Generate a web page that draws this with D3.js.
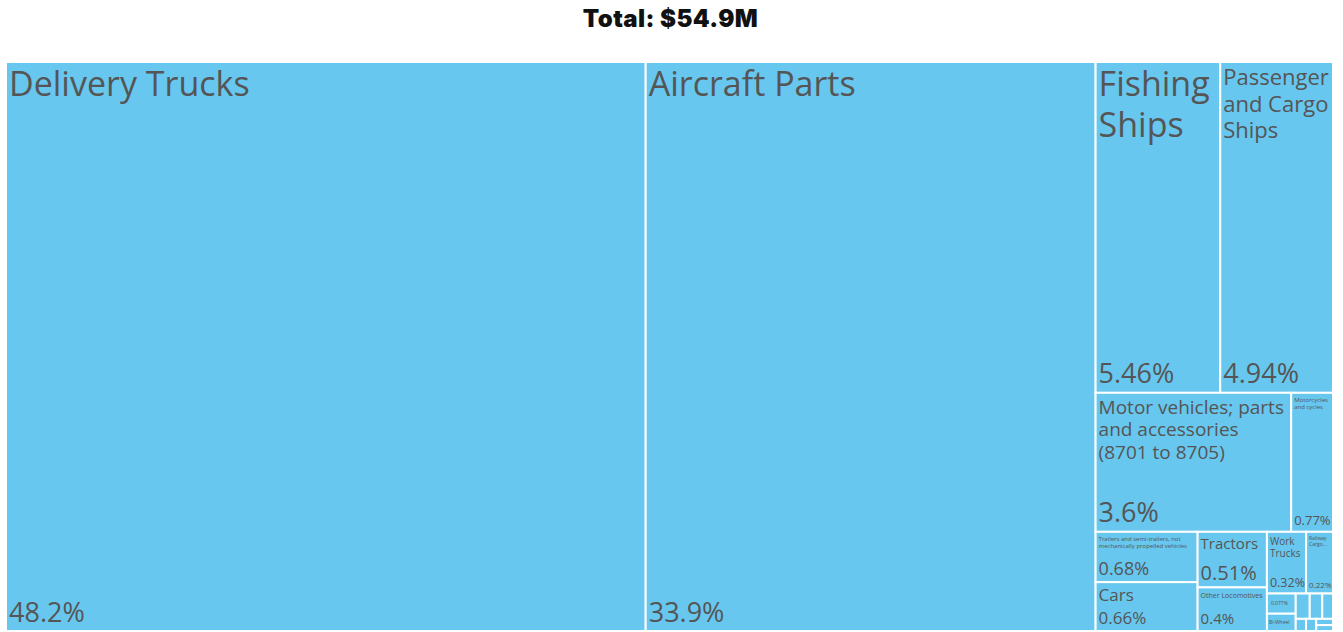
<!DOCTYPE html>
<html><head><meta charset="utf-8">
<script src="https://cdn.jsdelivr.net/npm/d3@7"></script>
<style>
html,body{margin:0;padding:0;background:#fff;}
svg{display:block;}
</style></head><body>
<svg id="chart" width="1343" height="632"></svg>
<script>
// ---- data ----
const titleText = "Total: $54.9M";
const categories = [
  "Delivery Trucks",
  "Aircraft Parts",
  "Fishing Ships",
  "Passenger and Cargo Ships",
  "Motor vehicles; parts and accessories (8701 to 8705)",
  "Motorcycles and cycles",
  "Trailers and semi-trailers, not mechanically propelled vehicles",
  "Cars",
  "Tractors",
  "Other Locomotives",
  "Work Trucks",
  "Railway Cargo Containers",
  "Self-propelled Railway Passenger Cars",
  "Bi-Wheel Vehicles",
  "Railway Maintenance Vehicles",
  "Baby Carriages",
  "Armored Vehicles",
  "Motorcycle Parts",
  "Vehicle Parts and Accessories",
  "Railway Freight Cars",
  "Hovercraft"
];
const shares = [48.2, 33.9, 5.46, 4.94, 3.6, 0.77, 0.68, 0.66, 0.51, 0.4, 0.32, 0.22,
  0.077, 0.066, 0.047, 0.042, 0.036, 0.0166, 0.0164, 0.014, 0.013];

// ---- setup ----
const W = 1343, H = 632;
const area = {x: 6, y: 62, w: 1327, h: 569};
const FILL = "#67c7ee", TEXT = "#555555";
const FONT = "'Open Sans', sans-serif";
const NAME_MAX = 34, SHARE_MAX = 27, FMIN = 5, LH = 1.2, PAD = 3;

const svg = d3.select("#chart");
svg.append("text")
  .attr("x", W / 2 - 1).attr("y", 27)
  .attr("text-anchor", "middle")
  .style("font-family", "Inter, 'Noto Sans', sans-serif")
  .style("font-weight", 900)
  .style("font-size", "24px")
  .style("letter-spacing", "0.4px")
  .attr("fill", "#111")
  .text(titleText);

const total = d3.sum(shares);
const fmt = d3.format(".3~g");

const root = d3.hierarchy({children: categories.map((c, i) => ({name: c, value: shares[i]}))})
  .sum(d => d.value || 0)
  .sort((a, b) => b.value - a.value);
d3.treemap().size([area.w, area.h]).tile(d3.treemapSquarify)(root);

const ctx = document.createElement("canvas").getContext("2d");
function tw(str, fs) { ctx.font = `${fs}px 'Open Sans'`; return ctx.measureText(str).width; }

function wrap(words, fs, width) {
  const lines = []; let cur = "";
  for (const w of words) {
    const test = cur ? cur + " " + w : w;
    if (tw(test, fs) <= width) cur = test;
    else {
      if (!cur) return null;
      lines.push(cur); cur = w;
      if (tw(w, fs) > width) return null;
    }
  }
  if (cur) lines.push(cur);
  return lines;
}
function truncate(words, fs, w, h) {
  const maxLines = Math.max(1, Math.floor(h / (fs * LH)));
  const lines = []; let cur = ""; let cut = false;
  for (const wd of words) {
    const test = cur ? cur + " " + wd : wd;
    if (tw(test, fs) <= w) { cur = test; continue; }
    if (!cur || tw(wd, fs) > w || lines.length + 1 >= maxLines) { cut = true; break; }
    lines.push(cur); cur = wd;
  }
  if (cur) lines.push(cur);
  if (cut) {
    if (!lines.length) return null;
    let last = lines[lines.length - 1];
    while (last && tw(last + "...", fs) > w) last = last.split(" ").slice(0, -1).join(" ");
    if (!last) return null;
    lines[lines.length - 1] = last + "...";
  }
  return {fs, lines};
}
function fitName(text, w, h) {
  const words = text.split(/\s+/);
  let fs = NAME_MAX;
  const widths = words.map(x => tw(x, fs));
  const maxW = d3.max(widths), lh = fs * LH;
  const areaMod = 1.165 + w / h * 0.1;
  const textArea = d3.sum(widths) * lh * areaMod;
  if (maxW > w || textArea > w * h) {
    fs = Math.floor(fs * Math.min(Math.sqrt(w * h / textArea), w / maxW));
  }
  fs = Math.max(FMIN, fs);
  while (fs >= FMIN) {
    const lines = wrap(words, fs, w);
    if (lines && lines.length * fs * LH <= h) return {fs, lines};
    fs -= 1;
  }
  return truncate(words, FMIN, w, h);
}

const g = svg.append("g").attr("transform", `translate(${area.x},${area.y})`);
const cells = g.selectAll("g.cell").data(root.leaves()).join("g").attr("class", "cell");

cells.append("rect")
  .attr("x", d => d.x0).attr("y", d => d.y0)
  .attr("width", d => d.x1 - d.x0).attr("height", d => d.y1 - d.y0)
  .attr("fill", FILL).attr("stroke", "#fff").attr("stroke-width", 2);

cells.each(function (d) {
  const sel = d3.select(this);
  const w = d.x1 - d.x0, h = d.y1 - d.y0;
  const pctText = fmt(d.value / total * 100) + "%";
  const addText = (x, y, fs, lines) => {
    const t = sel.append("text")
      .attr("x", x).attr("y", y)
      .style("font-family", FONT).style("font-size", fs + "px")
      .attr("fill", TEXT);
    lines.forEach((ln, i) => {
      t.append("tspan").attr("x", x).attr("dy", i ? fs * LH : 0).text(ln);
    });
    return t;
  };
  if (w < 14 || h < 14) return;
  const shRaw = (h - 2 * PAD) * 0.5;
  if (shRaw < 10) {
    const r = truncate(d.data.name.split(/\s+/), FMIN, w - 2, h - 2);
    if (r && r.lines.length) {
      addText(d.x0 + 2, d.y0 + h / 2 + FMIN * 0.35, FMIN, [r.lines[0]]);
    } else if (tw(pctText, FMIN) <= w - 4) {
      addText(d.x0 + 4, d.y0 + h / 2 + FMIN * 0.35, FMIN, [pctText]);
    }
    return;
  }
  const sh = Math.min(50, shRaw);
  let sfs = Math.min(SHARE_MAX, Math.floor(sh / LH), (w - 4) / tw(pctText, 1));
  sfs = Math.floor(sfs * 2) / 2;
  if (sfs >= FMIN) addText(d.x0 + PAD, d.y1 - 3.5 - 0.22 * sfs, sfs, [pctText]);
  const nw = w - 2 * PAD, nh = h - 2 * PAD - sh;
  const r = fitName(d.data.name, nw, nh);
  if (r) addText(d.x0 + PAD, d.y0 + 4 + 0.88 * r.fs, r.fs, r.lines);
});
</script>
</body></html>
